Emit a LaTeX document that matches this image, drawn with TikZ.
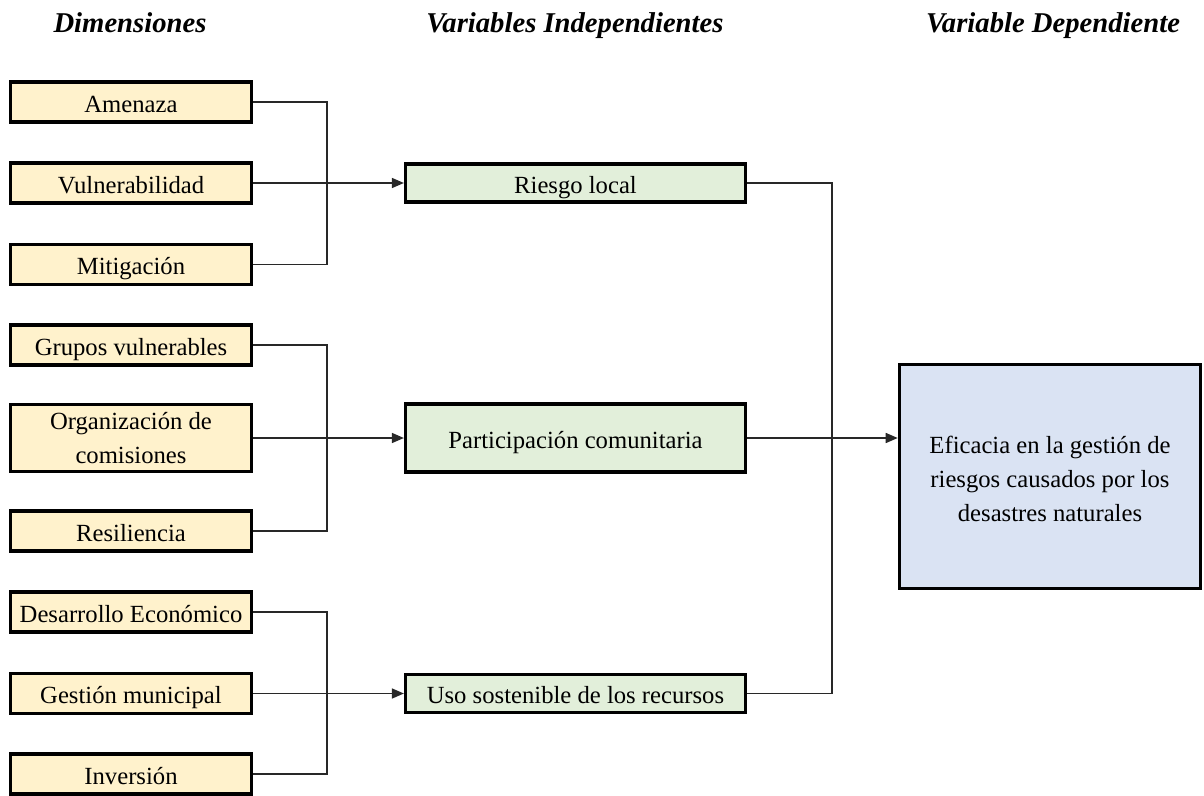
\documentclass[tikz,border=0pt]{standalone}
\usepackage{fontspec}
\setmainfont{Liberation Serif}
\usetikzlibrary{arrows.meta}
\newcommand{\boxlines}[1]{\begin{tabular}[b]{@{}c@{}}#1\end{tabular}}

\begin{document}
\begin{tikzpicture}[x=0.75pt,y=0.75pt,yscale=-1,xscale=1,
    box/.style={draw, line width=2.4pt, inner sep=0pt, font=\fontsize{18.5}{25.5}\selectfont,
        text height=20.25pt, text depth=5.25pt},
    dimbox/.style={box, fill={rgb,255:red,255;green,242;blue,204}, minimum width=181pt, minimum height=30pt},
    varbox/.style={box, fill={rgb,255:red,226;green,239;blue,218}, minimum width=255pt, minimum height=28.5pt},
    depbox/.style={box, fill={rgb,255:red,218;green,227;blue,243}, minimum width=226pt, minimum height=168pt},
    heading/.style={anchor=base, inner sep=0.75pt, font=\fontsize{21.5}{26}\selectfont\bfseries\itshape},
    link/.style={draw={rgb,255:red,40;green,40;blue,40}, line width=1.1pt},
    arrow/.style={link, -{Triangle[length=9pt,width=7.5pt]}}]
        \useasboundingbox (0,0) rectangle (1204,796);

        % Text Node
        \node[heading] (hdim) at (130,32) {Dimensiones};
        % Text Node
        \node[heading] (hind) at (575,32) {Variables Independientes};
        % Text Node
        \node[heading] (hdep) at (1053,32) {Variable Dependiente};

        %Shape: Rectangle [dimensiones]
        \node[dimbox] (amen) at (131,102) {Amenaza};
        \node[dimbox] (vuln) at (131,183) {Vulnerabilidad};
        \node[dimbox] (miti) at (131,264.5) {Mitigación};
        \node[dimbox] (grup) at (131,345) {Grupos vulnerables};
        \node[dimbox, minimum height=50pt, text height=42.75pt] (orga) at (131,438) {\boxlines{Organización de\\comisiones}};
        \node[dimbox] (resi) at (131,531) {Resiliencia};
        \node[dimbox] (desa) at (131,612) {Desarrollo Económico};
        \node[dimbox] (gest) at (131,693.5) {Gestión municipal};
        \node[dimbox] (inve) at (131,774) {Inversión};

        %Shape: Rectangle [variables independientes]
        \node[varbox] (ries) at (575.5,183) {Riesgo local};
        \node[varbox, minimum height=51pt] (part) at (575.5,438) {Participación comunitaria};
        \node[varbox] (uso) at (575.5,693.5) {Uso sostenible de los recursos};

        %Shape: Rectangle [variable dependiente]
        \node[depbox, text height=72pt] (efic) at (1050,476.5) {\boxlines{Eficacia en la gestión de\\riesgos causados por los\\desastres naturales}};

        % Joints
        \coordinate (j1) at (327,183);
        \coordinate (j2) at (327,438);
        \coordinate (j3) at (327,693.5);
        \coordinate (j4) at (832,438);

        %Lines
        \draw[link] (amen.east) -| (j1) |- (miti.east);
        \draw[arrow] (vuln.east) -- (ries.west);
        \draw[link] (grup.east) -| (j2) |- (resi.east);
        \draw[arrow] (orga.east) -- (part.west);
        \draw[link] (desa.east) -| (j3) |- (inve.east);
        \draw[arrow] (gest.east) -- (uso.west);
        \draw[link] (ries.east) -| (j4) |- (uso.east);
        \draw[arrow] (part.east) -- (efic.west |- part.east);

\end{tikzpicture}
\end{document}
